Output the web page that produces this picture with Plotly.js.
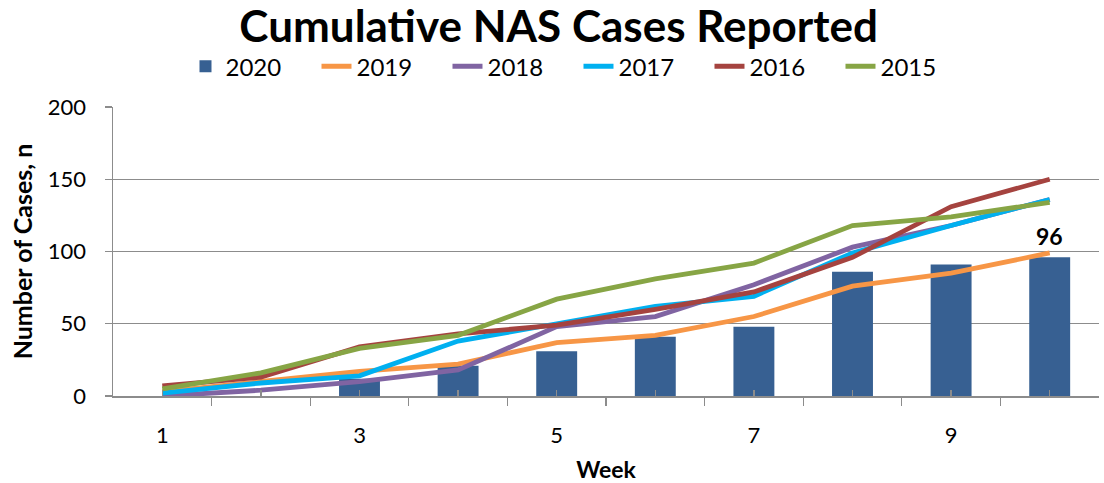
<!DOCTYPE html>
<html>
<head>
<meta charset="utf-8">
<script src="https://cdn.plot.ly/plotly-3.0.1.min.js"></script>
<style>html,body{margin:0;padding:0;background:#fff;}#chart{width:1104px;height:483px;}</style>
</head>
<body>
<div id="chart"></div>
<script>
const weeks = [1, 2, 3, 4, 5, 6, 7, 8, 9, 10];
const weekTickLabels = ['1', '', '3', '', '5', '', '7', '', '9', ''];
const cases2020 = [0, 0, 12, 21, 31, 41, 48, 86, 91, 96];
const cases2019 = [3, 10, 17, 22, 37, 42, 55, 76, 85, 99];
const cases2018 = [0, 4, 10, 18, 48, 55, 77, 103, 118, 136];
const cases2017 = [2, 9, 14, 38, 50, 62, 69, 99, 118, 136];
const cases2016 = [7, 13, 34, 43, 49, 60, 72, 96, 131, 150];
const cases2015 = [5, 16, 33, 42, 67, 81, 92, 118, 124, 134];
const seriesNames = ['2019', '2018', '2017', '2016', '2015'];
const lineSeries = [cases2019, cases2018, cases2017, cases2016, cases2015];
const lineColors = ['#F79646', '#8064A2', '#00B0F0', '#A5433F', '#87A545'];
const lastLabel = String(cases2020[cases2020.length - 1]);

const FONT = 'Lato, "Open Sans", sans-serif';
const traces = [{
  type: 'bar', name: '2020', x: weeks, y: cases2020,
  marker: {color: '#376092'}, width: 0.415, hoverinfo: 'skip'
}];
lineSeries.forEach((s, i) => traces.push({
  type: 'scatter', mode: 'lines', name: seriesNames[i], x: weeks, y: s,
  line: {color: lineColors[i], width: 4.8}, hoverinfo: 'skip'
}));

const layout = {
  width: 1104, height: 483,
  margin: {l: 112.5, r: 4.5, t: 107, b: 87},
  paper_bgcolor: '#fff', plot_bgcolor: '#fff',
  font: {family: FONT, color: '#000', size: 22},
  title: {text: 'Cumulative NAS Cases Reported', font: {family: FONT, size: 44, weight: 'bold', color: '#000'},
    xref: 'container', yref: 'container', x: 0.506, y: 0.944, xanchor: 'center', yanchor: 'middle'},
  showlegend: true,
  legend: {orientation: 'h', xref: 'container', yref: 'container', x: 0.524, y: 0.862,
    xanchor: 'center', yanchor: 'middle', font: {family: FONT, size: 24, color: '#000'},
    traceorder: 'normal', entrywidth: 86, itemwidth: 30, bgcolor: 'rgba(0,0,0,0)'},
  xaxis: {
    range: [0.5, 10.5], tickmode: 'array', tickvals: weeks, ticktext: weekTickLabels,
    ticks: 'inside', ticklen: 6, tickwidth: 1.3, tickcolor: '#8c8c8c',
    minor: {tickmode: 'array', tickvals: weeks.map(w => w - 0.5).concat([weeks[weeks.length-1] + 0.5]),
      ticks: 'outside', ticklen: 8, tickwidth: 1.3, tickcolor: '#8c8c8c', showgrid: false},
    showline: true, linecolor: '#8c8c8c', linewidth: 1.5, showgrid: false, zeroline: false,
    ticklabelstandoff: 19, tickfont: {family: FONT, size: 22},
    title: {text: 'Week', font: {family: FONT, size: 23, weight: 'bold'}, standoff: 22},
    fixedrange: true
  },
  yaxis: {
    range: [0, 200], tickmode: 'array', tickvals: [0, 50, 100, 150, 200],
    ticks: 'outside', ticklen: 7, tickwidth: 1.3, tickcolor: '#8c8c8c',
    showline: true, linecolor: '#8c8c8c', linewidth: 1.5,
    showgrid: true, gridcolor: '#8c8c8c', gridwidth: 1.3, zeroline: false,
    ticklabelstandoff: 14, tickfont: {family: FONT, size: 22},
    title: {text: 'Number of Cases, n', font: {family: FONT, size: 25, weight: 'bold'}, standoff: 8},
    fixedrange: true
  },
  annotations: [{
    x: weeks[weeks.length - 1], y: cases2020[cases2020.length - 1], xref: 'x', yref: 'y',
    text: lastLabel, showarrow: false, yanchor: 'bottom', yshift: 5,
    font: {family: FONT, size: 23, weight: 'bold', color: '#000'}
  }]
};
Plotly.newPlot('chart', traces, layout, {displayModeBar: false, staticPlot: true});
</script>
</body>
</html>
